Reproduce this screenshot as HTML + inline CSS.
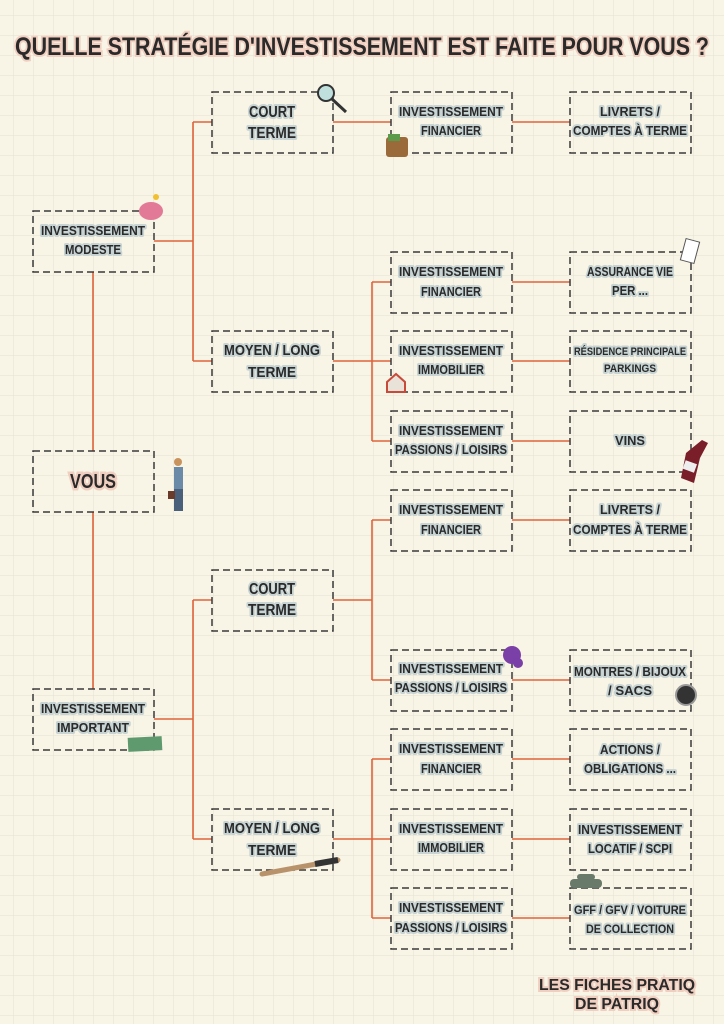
<!DOCTYPE html>
<html><head><meta charset="utf-8"><style>
html,body{margin:0;padding:0;width:724px;height:1024px;overflow:hidden;background:#f8f4e6}
svg{display:block}
text{font-family:"Liberation Sans Narrow","Liberation Sans",sans-serif;font-weight:bold;fill:#2a2a2a;text-anchor:middle}
.hl{stroke:#c7d4d3;stroke-width:4;stroke-linejoin:round;paint-order:stroke}
.bx{fill:none;stroke:#3a3a3a;stroke-width:1.5;stroke-dasharray:7 4}
.ln{stroke:#e0633a;stroke-width:1.6;fill:none}
</style></head><body>
<svg width="724" height="1024" viewBox="0 0 724 1024" xmlns="http://www.w3.org/2000/svg">
<defs><pattern id="g" width="20" height="20" patternUnits="userSpaceOnUse" x="-6" y="-4"><path d="M20 0V20M0 20H20" stroke="#e5e1d1" stroke-width="1" fill="none"/></pattern></defs>
<rect width="724" height="1024" fill="url(#g)"/>
<text x="362" y="55" font-size="25" textLength="694" lengthAdjust="spacingAndGlyphs" style="stroke:#f0cfc0;stroke-width:4;paint-order:stroke">QUELLE STRATÉGIE D'INVESTISSEMENT EST FAITE POUR VOUS ?</text>

<path class="ln" d="M154 241H193M193 122V361M193 122H212M193 361H212M333 122H391"/>
<path class="ln" d="M333 361H372M372 282V441M372 282H391M372 361H391M372 441H391"/>
<path class="ln" d="M93 272V451M93 512V689"/>
<path class="ln" d="M154 719H193M193 600V839M193 600H212M193 839H212"/>
<path class="ln" d="M333 600H372M372 520V680M372 520H391M372 680H391"/>
<path class="ln" d="M333 839H372M372 759V918M372 759H391M372 839H391M372 918H391"/>
<path class="ln" d="M512 122H570M512 282H570M512 361H570M512 441H570M512 520H570M512 680H570M512 759H570M512 839H570M512 918H570"/>

<g class="bx">
<rect x="212" y="92" width="121" height="61"/><rect x="33" y="211" width="121" height="61"/>
<rect x="212" y="331" width="121" height="61"/><rect x="33" y="451" width="121" height="61"/>
<rect x="212" y="570" width="121" height="61"/><rect x="33" y="689" width="121" height="61"/>
<rect x="212" y="809" width="121" height="61"/>
<rect x="391" y="92" width="121" height="61"/><rect x="391" y="252" width="121" height="61"/>
<rect x="391" y="331" width="121" height="61"/><rect x="391" y="411" width="121" height="61"/>
<rect x="391" y="490" width="121" height="61"/><rect x="391" y="650" width="121" height="61"/>
<rect x="391" y="729" width="121" height="61"/><rect x="391" y="809" width="121" height="61"/>
<rect x="391" y="888" width="121" height="61"/>
<rect x="570" y="92" width="121" height="61"/><rect x="570" y="252" width="121" height="61"/>
<rect x="570" y="331" width="121" height="61"/><rect x="570" y="411" width="121" height="61"/>
<rect x="570" y="490" width="121" height="61"/><rect x="570" y="650" width="121" height="61"/>
<rect x="570" y="729" width="121" height="61"/><rect x="570" y="809" width="121" height="61"/>
<rect x="570" y="888" width="121" height="61"/>
</g>

<g font-size="13" lengthAdjust="spacingAndGlyphs">
<text class="hl" font-size="16" x="272" y="117" textLength="46" lengthAdjust="spacingAndGlyphs">COURT</text><text class="hl" font-size="16" x="272" y="138" textLength="48" lengthAdjust="spacingAndGlyphs">TERME</text>
<text class="hl" x="93" y="235" textLength="104" lengthAdjust="spacingAndGlyphs">INVESTISSEMENT</text><text class="hl" x="93" y="254" textLength="56" lengthAdjust="spacingAndGlyphs">MODESTE</text>
<text class="hl" font-size="15" x="272" y="355" textLength="96" lengthAdjust="spacingAndGlyphs">MOYEN / LONG</text><text class="hl" font-size="15" x="272" y="377" textLength="48" lengthAdjust="spacingAndGlyphs">TERME</text>
<text font-size="20" x="93" y="488" textLength="46" lengthAdjust="spacingAndGlyphs" style="stroke:#f0cfc0;stroke-width:5;paint-order:stroke">VOUS</text>
<text class="hl" font-size="16" x="272" y="594" textLength="46" lengthAdjust="spacingAndGlyphs">COURT</text><text class="hl" font-size="16" x="272" y="615" textLength="48" lengthAdjust="spacingAndGlyphs">TERME</text>
<text class="hl" x="93" y="713" textLength="104" lengthAdjust="spacingAndGlyphs">INVESTISSEMENT</text><text class="hl" x="93" y="732" textLength="72" lengthAdjust="spacingAndGlyphs">IMPORTANT</text>
<text class="hl" font-size="15" x="272" y="833" textLength="96" lengthAdjust="spacingAndGlyphs">MOYEN / LONG</text><text class="hl" font-size="15" x="272" y="855" textLength="48" lengthAdjust="spacingAndGlyphs">TERME</text>

<text class="hl" x="451" y="116" textLength="104" lengthAdjust="spacingAndGlyphs">INVESTISSEMENT</text><text class="hl" x="451" y="135" textLength="60" lengthAdjust="spacingAndGlyphs">FINANCIER</text>
<text class="hl" x="451" y="276" textLength="104" lengthAdjust="spacingAndGlyphs">INVESTISSEMENT</text><text class="hl" x="451" y="296" textLength="60" lengthAdjust="spacingAndGlyphs">FINANCIER</text>
<text class="hl" x="451" y="355" textLength="104" lengthAdjust="spacingAndGlyphs">INVESTISSEMENT</text><text class="hl" x="451" y="374" textLength="66" lengthAdjust="spacingAndGlyphs">IMMOBILIER</text>
<text class="hl" x="451" y="435" textLength="104" lengthAdjust="spacingAndGlyphs">INVESTISSEMENT</text><text class="hl" x="451" y="454" textLength="112" lengthAdjust="spacingAndGlyphs">PASSIONS / LOISIRS</text>
<text class="hl" x="451" y="514" textLength="104" lengthAdjust="spacingAndGlyphs">INVESTISSEMENT</text><text class="hl" x="451" y="534" textLength="60" lengthAdjust="spacingAndGlyphs">FINANCIER</text>
<text class="hl" x="451" y="673" textLength="104" lengthAdjust="spacingAndGlyphs">INVESTISSEMENT</text><text class="hl" x="451" y="692" textLength="112" lengthAdjust="spacingAndGlyphs">PASSIONS / LOISIRS</text>
<text class="hl" x="451" y="753" textLength="104" lengthAdjust="spacingAndGlyphs">INVESTISSEMENT</text><text class="hl" x="451" y="773" textLength="60" lengthAdjust="spacingAndGlyphs">FINANCIER</text>
<text class="hl" x="451" y="833" textLength="104" lengthAdjust="spacingAndGlyphs">INVESTISSEMENT</text><text class="hl" x="451" y="852" textLength="66" lengthAdjust="spacingAndGlyphs">IMMOBILIER</text>
<text class="hl" x="451" y="912" textLength="104" lengthAdjust="spacingAndGlyphs">INVESTISSEMENT</text><text class="hl" x="451" y="932" textLength="112" lengthAdjust="spacingAndGlyphs">PASSIONS / LOISIRS</text>

<text class="hl" x="630" y="116" textLength="60" lengthAdjust="spacingAndGlyphs">LIVRETS /</text><text class="hl" x="630" y="135" textLength="114" lengthAdjust="spacingAndGlyphs">COMPTES À TERME</text>
<text class="hl" x="630" y="276" textLength="86" lengthAdjust="spacingAndGlyphs">ASSURANCE VIE</text><text class="hl" x="630" y="295" textLength="36" lengthAdjust="spacingAndGlyphs">PER ...</text>
<text class="hl" font-size="11" x="630" y="355" textLength="112" lengthAdjust="spacingAndGlyphs">RÉSIDENCE PRINCIPALE</text><text class="hl" font-size="11" x="630" y="372" textLength="52" lengthAdjust="spacingAndGlyphs">PARKINGS</text>
<text class="hl" x="630" y="445" textLength="30" lengthAdjust="spacingAndGlyphs">VINS</text>
<text class="hl" x="630" y="514" textLength="60" lengthAdjust="spacingAndGlyphs">LIVRETS /</text><text class="hl" x="630" y="534" textLength="114" lengthAdjust="spacingAndGlyphs">COMPTES À TERME</text>
<text class="hl" x="630" y="676" textLength="112" lengthAdjust="spacingAndGlyphs">MONTRES / BIJOUX</text><text class="hl" x="630" y="695" textLength="44" lengthAdjust="spacingAndGlyphs">/ SACS</text>
<text class="hl" x="630" y="754" textLength="60" lengthAdjust="spacingAndGlyphs">ACTIONS /</text><text class="hl" x="630" y="773" textLength="92" lengthAdjust="spacingAndGlyphs">OBLIGATIONS ...</text>
<text class="hl" x="630" y="834" textLength="104" lengthAdjust="spacingAndGlyphs">INVESTISSEMENT</text><text class="hl" x="630" y="853" textLength="84" lengthAdjust="spacingAndGlyphs">LOCATIF / SCPI</text>
<text class="hl" font-size="12" x="630" y="914" textLength="112" lengthAdjust="spacingAndGlyphs">GFF / GFV / VOITURE</text><text class="hl" font-size="12" x="630" y="933" textLength="88" lengthAdjust="spacingAndGlyphs">DE COLLECTION</text>
</g>
<text font-size="16" x="617" y="990" textLength="156" lengthAdjust="spacingAndGlyphs" style="stroke:#f0cfc0;stroke-width:4;paint-order:stroke">LES FICHES PRATIQ</text>
<text font-size="16" x="617" y="1009" textLength="84" lengthAdjust="spacingAndGlyphs" style="stroke:#f0cfc0;stroke-width:4;paint-order:stroke">DE PATRIQ</text>

<circle cx="326" cy="93" r="8" fill="#bfe0dc" stroke="#333" stroke-width="2"/><path d="M332 99L346 112" stroke="#333" stroke-width="3"/>
<ellipse cx="151" cy="211" rx="12" ry="9" fill="#e27a97"/><circle cx="156" cy="197" r="3" fill="#f0c030"/>
<rect x="386" y="137" width="22" height="20" rx="3" fill="#9a6a3a"/><rect x="388" y="134" width="12" height="7" fill="#5a9a4a"/>
<rect x="683" y="240" width="14" height="22" fill="#fff" stroke="#555" transform="rotate(15 690 251)"/>
<path d="M387 382L396 374L405 382V392H387Z" fill="#e8e2d8" stroke="#c84a3a" stroke-width="2"/>
<path d="M702 440L708 443L700 458L694 483L681 478L686 453Z" fill="#7a1f2a"/><rect x="684" y="462" width="12" height="9" fill="#eee" transform="rotate(20 690 466)"/>
<circle cx="178" cy="462" r="4" fill="#c9935e"/><rect x="174" y="467" width="9" height="22" fill="#6a8aa8"/><rect x="174" y="489" width="9" height="22" fill="#4a5f7a"/><rect x="168" y="491" width="7" height="8" fill="#6a3a2a"/>
<circle cx="512" cy="655" r="9" fill="#7b3fa8"/><circle cx="518" cy="663" r="5" fill="#7b3fa8"/>
<circle cx="686" cy="695" r="10" fill="#333" stroke="#999" stroke-width="2"/>
<rect x="128" y="737" width="34" height="14" fill="#5f9a6e" transform="rotate(-3 145 744)"/>
<path d="M262 874L338 860" stroke="#b8926a" stroke-width="5" stroke-linecap="round"/><path d="M315 864L338 860" stroke="#333" stroke-width="6"/>
<rect x="570" y="879" width="32" height="9" rx="4" fill="#6a7a6a"/><rect x="577" y="874" width="18" height="6" rx="3" fill="#6a7a6a"/>
</svg>
</body></html>
